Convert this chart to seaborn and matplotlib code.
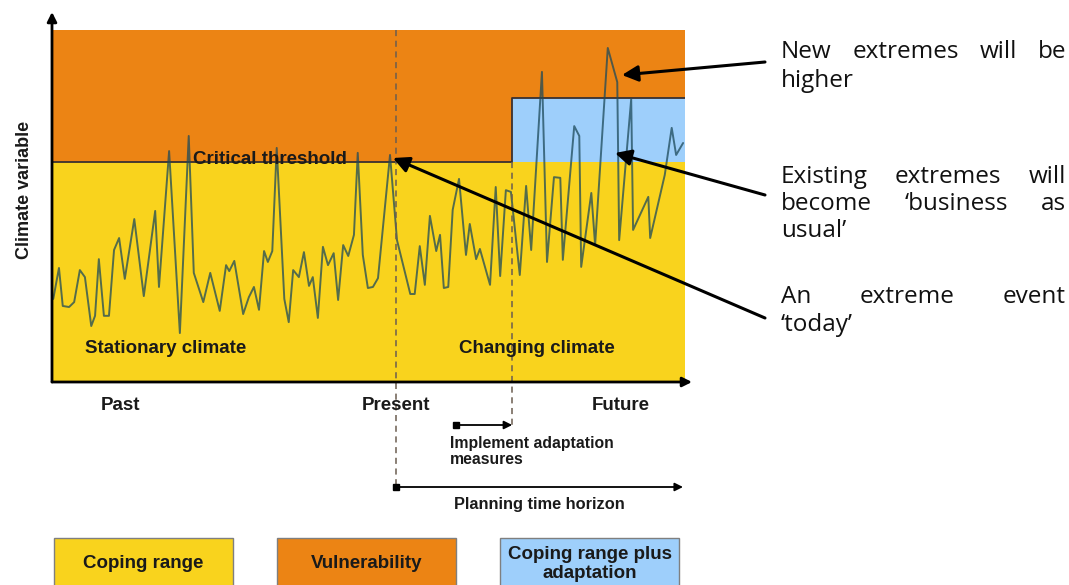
import matplotlib

matplotlib.use("Agg")
import matplotlib.pyplot as plt
import pandas as pd
import seaborn as sns
from matplotlib.patches import Rectangle

W, H = 1069, 585

# climate variable over time (time and value both on a 0-100 scale)
time_step = [
    0.2, 1.1, 1.7, 2.7, 3.5, 4.4, 5.2, 6.2, 6.8, 7.4, 8.2, 9.0, 9.8, 10.6, 11.5,
    13.0, 14.5, 16.3, 16.9, 18.5, 20.2, 21.6, 22.4, 23.9, 25.0, 26.5, 27.5, 28.0,
    28.8, 30.2, 31.1, 31.9, 32.7, 33.5, 34.1, 34.8, 35.5, 36.7, 37.4, 38.1, 39.0,
    39.8, 40.6, 41.2, 42.0, 42.8, 43.6, 44.5, 45.2, 46.0, 46.8, 47.7, 48.3, 49.1,
    49.9, 50.7, 51.5, 53.4, 54.5, 56.6, 57.3, 58.1, 58.9, 59.7, 60.7, 61.3, 61.9,
    62.6, 63.3, 64.3, 65.4, 66.0, 67.0, 67.6, 69.2, 70.1, 70.8, 71.7, 72.5, 73.9,
    74.9, 75.7, 77.4, 78.2, 79.3, 80.3, 80.7, 82.5, 83.3, 83.6, 85.2, 85.8, 87.8,
    89.3, 89.6, 91.5, 91.8, 94.2, 94.5, 96.8, 97.9, 98.6, 99.7,
]
climate_value = [
    23.6, 32.4, 21.6, 21.3, 22.7, 31.8, 29.8, 15.9, 18.8, 34.9, 18.8, 18.8, 37.5,
    40.9, 29.3, 46.3, 24.4, 48.6, 27.0, 65.6, 13.9, 69.9, 31.0, 22.7, 31.0, 20.2,
    33.2, 31.5, 34.4, 19.3, 24.1, 27.0, 20.5, 37.2, 34.1, 37.2, 66.5, 23.6, 17.0,
    31.8, 29.8, 36.9, 27.3, 29.8, 18.2, 38.4, 33.2, 36.6, 23.3, 38.9, 35.8, 41.8,
    65.1, 36.1, 26.7, 27.0, 29.5, 64.5, 40.3, 25.0, 25.0, 38.6, 27.6, 47.2, 37.2,
    41.8, 26.7, 27.0, 48.9, 57.7, 36.1, 44.9, 34.9, 37.8, 27.6, 55.4, 30.1, 54.5,
    54.0, 30.4, 55.7, 37.5, 88.1, 34.1, 58.2, 58.0, 34.7, 72.7, 69.9, 32.7, 53.7,
    38.9, 94.9, 85.2, 40.3, 80.4, 43.2, 52.6, 40.9, 58.8, 72.2, 64.5, 67.9,
]

THRESHOLD = 62.5
ADAPTED_THRESHOLD = 80.7
PRESENT = 54.3
ADAPTATION_START = 72.7

legend_labels = ["Coping range", "Vulnerability", "Coping range plus\nadaptation"]

# right-hand notes: (line text, baseline in px from top, justified?)
note_lines = [
    ("New extremes will be", 58, True),
    ("higher", 87, False),
    ("Existing extremes will", 183, True),
    ("become \u2018business as", 210, True),
    ("usual\u2019", 237, False),
    ("An extreme event", 303, True),
    ("\u2018today\u2019", 331, False),
]

YELLOW = "#f9d31d"
ORANGE = "#ec8414"
BLUE = "#9ecffb"
LINE = "#1d4a5a"
DASH = "#6b5d50"


def to_data(px, py):
    # figure pixel (from top-left) -> data units of the main axes
    return (px - 52) / 6.33, (382 - py) / 3.52


def fig_px(px, py):
    return px, H - py


sns.set_theme(style="white")
plt.rcParams["font.family"] = ["Liberation Sans", "DejaVu Sans"]

fig = plt.figure(figsize=(W / 100, H / 100), dpi=100)
ax = fig.add_axes([52 / W, 1 - 382 / H, (685 - 52) / W, (382 - 30) / H])

ax.fill_between([0, 100], 0, THRESHOLD, color=YELLOW, lw=0)
ax.fill_between([0, ADAPTATION_START], THRESHOLD, 100, color=ORANGE, lw=0)
ax.fill_between([ADAPTATION_START, 100], ADAPTED_THRESHOLD, 100, color=ORANGE, lw=0)
ax.fill_between([ADAPTATION_START, 100], THRESHOLD, ADAPTED_THRESHOLD, color=BLUE, lw=0)
ax.plot(
    [0, ADAPTATION_START, ADAPTATION_START, 100],
    [THRESHOLD, THRESHOLD, ADAPTED_THRESHOLD, ADAPTED_THRESHOLD],
    color="#3a3030",
    lw=1.3,
)

df = pd.DataFrame({"time": time_step, "value": climate_value})
sns.lineplot(data=df, x="time", y="value", color=LINE, alpha=0.75, lw=1.4,
             estimator=None, ax=ax)

ax.set_xlim(0, 100)
ax.set_ylim(0, 100)
ax.axis("off")

# dashed time markers
_, y_plan = to_data(0, 487)
_, y_impl = to_data(0, 425)
ax.plot([PRESENT, PRESENT], [100, y_plan], color=DASH, lw=1.1, ls=(0, (4, 3)), clip_on=False)
ax.plot([ADAPTATION_START, ADAPTATION_START], [THRESHOLD, y_impl], color=DASH, lw=1.1,
        ls=(0, (4, 3)), clip_on=False)

# axis arrows
arrow = dict(arrowstyle="-|>", color="black", lw=2, mutation_scale=14, shrinkA=0, shrinkB=0)
ax.annotate("", xy=(0, to_data(0, 12)[1]), xytext=(0, 0), arrowprops=arrow, annotation_clip=False)
ax.annotate("", xy=(to_data(692, 0)[0], 0), xytext=(0, 0), arrowprops=arrow, annotation_clip=False)

bold = dict(fontsize=13.5, fontweight="bold", color="#1a1a1a")
ax.text(34.4, 63.1, "Critical threshold", ha="center", va="center", **bold)
ax.text(5.2, 9.4, "Stationary climate", ha="left", va="center", **bold)
ax.text(64.3, 9.4, "Changing climate", ha="left", va="center", **bold)
for label, px in [("Past", 120), ("Present", 396), ("Future", 621)]:
    x, y = to_data(px, 405)
    ax.text(x, y, label, ha="center", va="center", **bold)

# adaptation / planning horizon arrows
small_arrow = dict(arrowstyle="-|>", color="black", lw=1.3, mutation_scale=12, shrinkA=0, shrinkB=0)
x0, _ = to_data(456, 0)
ax.annotate("", xy=(ADAPTATION_START, y_impl), xytext=(x0, y_impl), arrowprops=small_arrow,
            annotation_clip=False)
ax.plot([x0], [y_impl], marker="s", ms=4, color="black", clip_on=False)
x1, _ = to_data(683, 0)
ax.annotate("", xy=(x1, y_plan), xytext=(PRESENT, y_plan), arrowprops=small_arrow,
            annotation_clip=False)
ax.plot([PRESENT], [y_plan], marker="s", ms=4, color="black", clip_on=False)

small = dict(fontsize=11.3, fontweight="bold", color="#1a1a1a")
x, y = to_data(450, 436)
ax.text(x, y, "Implement adaptation\nmeasures", ha="left", va="top", linespacing=1.12, **small)
x, y = to_data(539, 505)
ax.text(x, y, "Planning time horizon", ha="center", va="center", fontsize=11.8,
        fontweight="bold", color="#1a1a1a")

fig.text(25 / W, 1 - 190 / H, "Climate variable", rotation=90, ha="center", va="center",
         fontsize=13, fontweight="bold", color="#1a1a1a")

# legend boxes
for label, color, (left, right) in zip(legend_labels, [YELLOW, ORANGE, BLUE],
                                       [(54, 233), (277, 456), (500, 679)]):
    fig.add_artist(Rectangle((left / W, -0.02), (right - left) / W, (H - 538) / H + 0.02,
                             transform=fig.transFigure, facecolor=color,
                             edgecolor="#7f7f7f", lw=1))
    fig.text((left + right) / 2 / W, 1 - 564 / H, label, ha="center", va="center",
             linespacing=1.22, **bold)

# right-hand annotations, justified between two edges
note_font = dict(fontsize=17.5, family=["Open Sans", "DejaVu Sans"], color="#111111")
NOTE_LEFT, NOTE_RIGHT = 781, 1066
renderer = fig.canvas.get_renderer()
for line, py, justify in note_lines:
    if not justify:
        fig.text(NOTE_LEFT / W, 1 - py / H, line, ha="left", va="baseline", **note_font)
        continue
    texts = [fig.text(0, 1 - py / H, w, ha="left", va="baseline", **note_font)
             for w in line.split()]
    widths = [t.get_window_extent(renderer).width for t in texts]
    gap = (NOTE_RIGHT - NOTE_LEFT - sum(widths)) / (len(texts) - 1)
    pos = NOTE_LEFT
    for t, w in zip(texts, widths):
        t.set_x(pos / W)
        pos += w + gap

big_arrow = dict(arrowstyle="-|>", color="black", lw=2.2, mutation_scale=24, shrinkA=0, shrinkB=0)
for head, tail in [((622, 75), (765, 62)), ((615, 153), (765, 195)), ((393, 158), (765, 318))]:
    ax.annotate("", xy=to_data(*head), xycoords="data", xytext=fig_px(*tail),
                textcoords="figure pixels", arrowprops=big_arrow, annotation_clip=False)

fig.savefig("out.png", dpi=100, facecolor="white")
